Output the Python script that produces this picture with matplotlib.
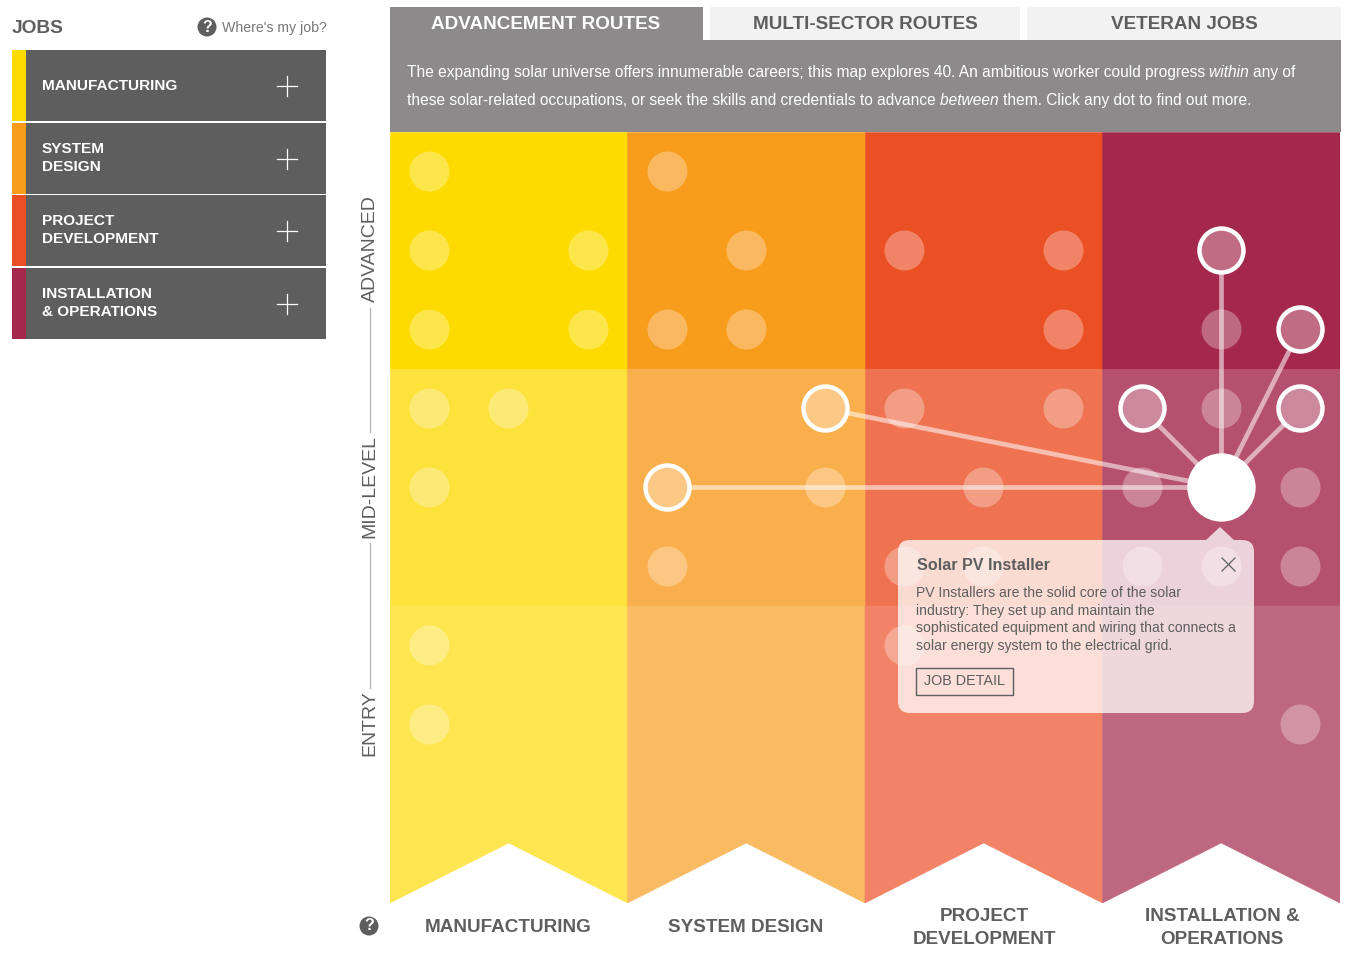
import matplotlib
matplotlib.use('Agg')
import matplotlib.pyplot as plt
from matplotlib.patches import Rectangle, Polygon, FancyBboxPatch, Circle

plt.rcParams['font.family'] = ['Liberation Sans', 'DejaVu Sans']

# --- data ---
columns = ['MANUFACTURING', 'SYSTEM DESIGN', 'PROJECT\nDEVELOPMENT', 'INSTALLATION &\nOPERATIONS']
side_labels = ['MANUFACTURING', 'SYSTEM\nDESIGN', 'PROJECT\nDEVELOPMENT', 'INSTALLATION\n& OPERATIONS']
levels = ['ADVANCED', 'MID-LEVEL', 'ENTRY']
tabs = ['ADVANCEMENT ROUTES', 'MULTI-SECTOR ROUTES', 'VETERAN JOBS']

advanced_colors = ['#FDDB00', '#F89C1C', '#EB5024', '#A3284B']
mid_colors = ['#FDE23B', '#FAAF4D', '#EF7350', '#B5506F']
entry_colors = ['#FEE650', '#F8BB62', '#F28366', '#BE6780']

# job dots on the 12 x 8 map: column slot, row slot
dot_col = [0, 0, 2, 0, 2, 0, 1, 0, 0, 0,
           3, 4, 3, 4, 5, 3,
           6, 8, 8, 6, 8, 7, 6, 7, 6,
           10, 9, 10, 11, 9, 10, 11, 11]
dot_row = [0, 1, 1, 2, 2, 3, 3, 4, 6, 7,
           0, 1, 2, 2, 4, 5,
           1, 1, 2, 3, 3, 4, 5, 5, 6,
           2, 4, 3, 4, 5, 5, 5, 7]

# selected job and the jobs it connects to
active_col, active_row = 10, 4
route_col = [10, 11, 9, 11, 5, 3]
route_row = [1, 2, 3, 3, 3, 4]

tip_title = 'Solar PV Installer'
tip_lines = ['PV Installers are the solid core of the solar',
             'industry: They set up and maintain the',
             'sophisticated equipment and wiring that connects a',
             'solar energy system to the electrical grid.']

GREY = '#5E5E5E'
W, H = 1350, 956

fig = plt.figure(figsize=(W / 100, H / 100), dpi=100)

# --- page layer in pixel coordinates ---
ui = fig.add_axes([0, 0, 1, 1], zorder=1)
ui.set_xlim(0, W)
ui.set_ylim(H, 0)
ui.axis('off')

# --- map layer, one unit = one dot slot ---
top, bottom = 132, 903
ax = fig.add_axes([390 / W, 1 - bottom / H, 950 / W, (bottom - top) / H], zorder=2)
ax.set_xlim(0, 12)
ax.set_ylim(9.76, 0)
ax.axis('off')

for i in range(4):
    x0 = i * 3
    ax.add_patch(Rectangle((x0, 0), 3, 3, fc=advanced_colors[i], ec=advanced_colors[i], lw=0.4))
    ax.add_patch(Rectangle((x0, 3), 3, 3, fc=mid_colors[i], ec=mid_colors[i], lw=0.4))
    ax.add_patch(Polygon([(x0, 6), (x0 + 3, 6), (x0 + 3, 9.76), (x0 + 1.5, 9.0), (x0, 9.76)],
                         fc=entry_colors[i], ec=entry_colors[i], lw=0.4))

xs = [c + 0.495 for c in dot_col]
ys = [r + 0.5 for r in dot_row]
ax.scatter(xs, ys, s=829, c='white', alpha=0.3, linewidths=0, zorder=3)

ax0 = active_col + 0.495
ay0 = active_row + 0.5
gap = 0.29  # stop the spoke at the ring
for c, r in zip(route_col, route_row):
    dx = c + 0.495 - ax0
    dy = r + 0.5 - ay0
    dist = (dx ** 2 + dy ** 2) ** 0.5
    ax.plot([ax0, ax0 + dx * (1 - gap / dist)], [ay0, ay0 + dy * (1 - gap / dist)],
            color='white', alpha=0.55, lw=3.4, solid_capstyle='butt', zorder=4)
ax.scatter([c + 0.495 for c in route_col], [r + 0.5 for r in route_row], s=1003,
           facecolors=(1, 1, 1, 0.32), edgecolors='white', linewidths=3.2, zorder=5)
ax.scatter([ax0], [ay0], s=2420, c='white', linewidths=0, zorder=6)

# --- tooltip sits over the map ---
top_ax = fig.add_axes([0, 0, 1, 1], zorder=3)
top_ax.set_xlim(0, W)
top_ax.set_ylim(H, 0)
top_ax.axis('off')
top_ax.patch.set_alpha(0)

top_ax.add_patch(FancyBboxPatch((910, 552), 332, 149, boxstyle='round,pad=12,rounding_size=12',
                                fc=(1, 1, 1, 0.75), ec='none'))
top_ax.add_patch(Polygon([(1206, 540), (1220, 527), (1234, 540)], fc=(1, 1, 1, 0.75), ec='none'))
top_ax.text(917, 565, tip_title, fontsize=11.6, fontweight='bold', color=GREY, va='center')
for i, line in enumerate(tip_lines):
    top_ax.text(916, 593 + i * 17.7, line, fontsize=10.1, color=GREY, va='center')
top_ax.plot([1222, 1235], [558, 571], color=GREY, lw=0.9)
top_ax.plot([1222, 1235], [571, 558], color=GREY, lw=0.9)
top_ax.add_patch(Rectangle((916, 668), 97, 27, fc='none', ec=GREY, lw=1))
top_ax.text(964.5, 681, 'JOB DETAIL', fontsize=10.4, color=GREY, ha='center', va='center')

# --- tabs and intro ---
ui.add_patch(Rectangle((390, 7), 313, 33, fc='#8C8A8B', ec='none'))
ui.add_patch(Rectangle((710, 7), 310, 33, fc='#F3F2F2', ec='none'))
ui.add_patch(Rectangle((1027, 7), 314, 33, fc='#F3F2F2', ec='none'))
ui.add_patch(Rectangle((390, 40), 951, 92, fc='#8C8A8B', ec='none'))
tab_x = [546, 865, 1184]
tab_col = ['white', GREY, GREY]
for t, x, c in zip(tabs, tab_x, tab_col):
    ui.text(x, 24.6, t, fontsize=13.6, fontweight='bold', color=c, ha='center', va='center')


def run_text(x, y, parts):
    # lay out roman and italic pieces one after the other
    rend = fig.canvas.get_renderer()
    for s, style in parts:
        t = ui.text(x, y, s, fontsize=11.2, color='white', style=style, va='center')
        x += t.get_window_extent(rend).width


run_text(407, 72.5, [('The expanding solar universe offers innumerable careers; this map explores 40. An ambitious worker could progress ', 'normal'),
                     ('within ', 'italic'), ('any of', 'normal')])
run_text(407, 100.5, [('these solar-related occupations, or seek the skills and credentials to advance ', 'normal'),
                      ('between ', 'italic'), ('them. Click any dot to find out more.', 'normal')])

# --- left menu ---
ui.text(12, 28, 'JOBS', fontsize=13.8, fontweight='bold', color=GREY, va='center')
ui.add_patch(Circle((207, 27), 9.5, fc=GREY, ec='none'))
ui.text(207, 27, '?', fontsize=11.5, fontweight='bold', color='white', ha='center', va='center')
ui.text(222, 28, "Where's my job?", fontsize=10.2, color='#77777A', va='center')

row_y = [50, 123, 195, 268]
for i, y in enumerate(row_y):
    ui.add_patch(Rectangle((12, y), 14, 71, fc=advanced_colors[i], ec='none'))
    ui.add_patch(Rectangle((26, y), 300, 71, fc=GREY, ec='none'))
    label_y = y + 35 if '\n' in side_labels[i] else y + 35.5
    ui.text(42, label_y, side_labels[i], fontsize=11.1, fontweight='bold', color='white',
            va='center', linespacing=1.41)
    ui.plot([277, 297], [y + 36, y + 36], color='white', lw=0.9)
    ui.plot([287, 287], [y + 26, y + 46], color='white', lw=0.9)

# --- level labels ---
for lab, y in zip(levels, [248.5, 486, 723.5]):
    ui.text(370, y, lab, fontsize=14, color=GREY, rotation=90, ha='center', va='center')
ui.plot([370, 370], [308, 432], color='#B5B5B5', lw=0.9)
ui.plot([370, 370], [543, 688], color='#B5B5B5', lw=0.9)

# --- column labels ---
ui.add_patch(Circle((369, 926), 9.5, fc=GREY, ec='none'))
ui.text(369, 926, '?', fontsize=11.5, fontweight='bold', color='white', ha='center', va='center')
for i, lab in enumerate(columns):
    ui.text(508 + i * 238, 928, lab, fontsize=13.6, fontweight='bold', color=GREY,
            ha='center', va='center', linespacing=1.43)

fig.savefig('out.png', dpi=100)
